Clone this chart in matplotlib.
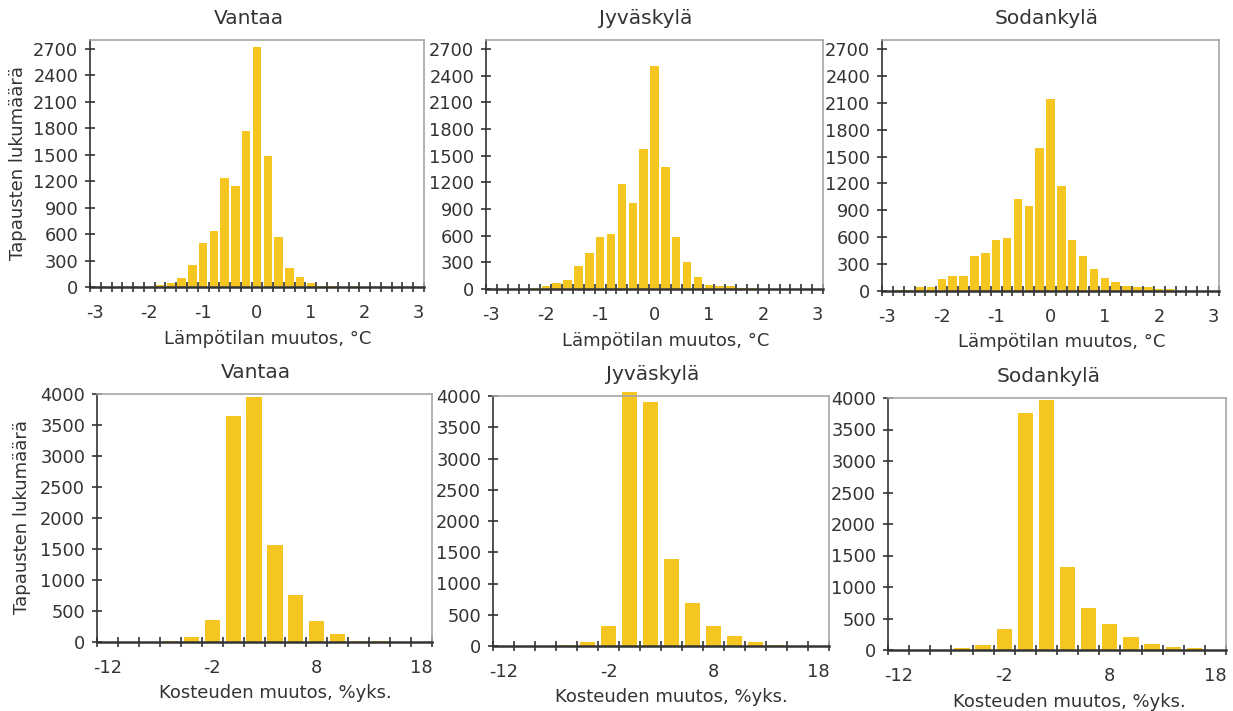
import matplotlib.pyplot as plt
import numpy as np

# temperature change categories (°C) and counts
temp_categories = [-3.0, -2.8, -2.6, -2.4, -2.2, -2.0, -1.8, -1.6, -1.4, -1.2, -1.0,
                   -0.8, -0.6, -0.4, -0.2, 0.0, 0.2, 0.4, 0.6, 0.8, 1.0,
                   1.2, 1.4, 1.6, 1.8, 2.0, 2.2, 2.4, 2.6, 2.8, 3.0]
temp_ticklabels = ["-3", "-2", "-1", "0", "1", "2", "3"]
temp_vantaa = [0, 0, 0, 0, 0, 0, 20, 40, 105, 250, 500,
               640, 1240, 1140, 1770, 2720, 1490, 570, 220, 110, 40,
               15, 15, 0, 15, 0, 0, 0, 0, 0, 0]
temp_jyvaskyla = [0, 0, 0, 0, 12, 35, 70, 100, 255, 400, 585,
                  620, 1180, 970, 1575, 2510, 1370, 585, 300, 140, 45,
                  35, 35, 12, 10, 0, 0, 0, 0, 0, 0]
temp_sodankyla = [0, 15, 15, 40, 40, 130, 170, 170, 395, 425, 570,
                  595, 1030, 950, 1590, 2140, 1175, 570, 395, 242, 142,
                  97, 52, 41, 41, 19, 19, 0, 0, 0, 0]

# humidity change categories (%-units) and counts
hum_categories = [-12, -10, -8, -6, -4, -2, 0, 2, 4, 6, 8, 10, 12, 14, 16, 18]
hum_ticklabels = ["-12", "-2", "8", "18"]
hum_vantaa = [0, 0, 0, 20, 85, 360, 3650, 3945, 1565, 760, 345, 135, 20, 20, 0, 0]
hum_jyvaskyla = [0, 0, 0, 20, 60, 315, 4060, 3900, 1400, 685, 315, 155, 60, 20, 0, 0]
hum_sodankyla = [0, 0, 0, 30, 85, 335, 3765, 3970, 1320, 665, 415, 205, 100, 48, 32, 0]

stations = ["Vantaa", "Jyväskylä", "Sodankylä"]

W, H = 1233, 711
BAR = '#F5C620'
DARK = '#333333'
FRAME = '#A6A6A6'

fig = plt.figure(figsize=(W / 100, H / 100), dpi=100)
plt.rcParams['font.family'] = 'DejaVu Sans'


def px_axes(x0, x1, y0, y1):
    return fig.add_axes([x0 / W, 1 - y1 / H, (x1 - x0) / W, (y1 - y0) / H])


def px_text(x, y, s, **kw):
    fig.text(x / W, 1 - y / H, s, ha='center', va='center', color=DARK, **kw)


def style(ax, n, ymax, ystep, ticklabels, every):
    x = np.arange(n)
    ax.set_xlim(-0.5, n - 0.5)
    ax.set_ylim(0, ymax)
    ax.set_yticks(np.arange(0, ymax + 1, ystep))
    ax.set_xticks(x[::every])
    ax.set_xticklabels(ticklabels)
    ax.set_xticks(np.arange(n + 1) - 0.5, minor=True)
    ax.tick_params(axis='x', which='major', length=0, pad=12, labelsize=12.8, labelcolor=DARK)
    ax.tick_params(axis='x', which='minor', direction='inout', length=7, width=1.2, color=DARK)
    ax.tick_params(axis='y', direction='inout', length=7, width=1.2, color=DARK,
                   labelsize=12.8, labelcolor=DARK, pad=5)
    for s in ('top', 'right'):
        ax.spines[s].set_color(FRAME)
        ax.spines[s].set_linewidth(1.2)
    ax.spines['left'].set_color(DARK)
    ax.spines['left'].set_linewidth(1.2)
    ax.spines['bottom'].set_color(DARK)
    ax.spines['bottom'].set_linewidth(1.8)


# top row: temperature
top_boxes = [(90, 424, 40, 287), (486, 823, 40, 289), (882, 1219, 40, 291)]
top_data = [temp_vantaa, temp_jyvaskyla, temp_sodankyla]
top_titles = [(249, 19), (646, 18), (1047, 18)]
top_xlabels = [(268, 339), (666, 341), (1062, 342)]
for box, data, tpos, lpos, name in zip(top_boxes, top_data, top_titles, top_xlabels, stations):
    ax = px_axes(*box)
    ax.bar(np.arange(len(temp_categories)), data, width=0.78, color=BAR, zorder=2)
    style(ax, len(temp_categories), 2800, 300, temp_ticklabels, 5)
    ax.set_yticks(np.arange(0, 2701, 300))
    px_text(*tpos, name, fontsize=14.5)
    px_text(*lpos, "Lämpötilan muutos, °C", fontsize=13)

# bottom row: humidity
bot_boxes = [(97, 432, 394, 642), (493, 829, 396, 646), (888, 1226, 398, 650)]
bot_data = [hum_vantaa, hum_jyvaskyla, hum_sodankyla]
bot_titles = [(256, 372), (653, 374), (1049, 377)]
bot_xlabels = [(275, 693), (671, 697), (1069, 702)]
for box, data, tpos, lpos, name in zip(bot_boxes, bot_data, bot_titles, bot_xlabels, stations):
    ax = px_axes(*box)
    bars = ax.bar(np.arange(len(hum_categories)), data, width=0.72, color=BAR, zorder=2)
    for b in bars:
        b.set_clip_on(False)
    style(ax, len(hum_categories), 4000, 500, hum_ticklabels, 5)
    px_text(*tpos, name, fontsize=14.5)
    px_text(*lpos, "Kosteuden muutos, %yks.", fontsize=13)

px_text(18, 163, "Tapausten lukumäärä", fontsize=13, rotation=90)
px_text(22, 517, "Tapausten lukumäärä", fontsize=13, rotation=90)

fig.savefig("out.png", dpi=100)
